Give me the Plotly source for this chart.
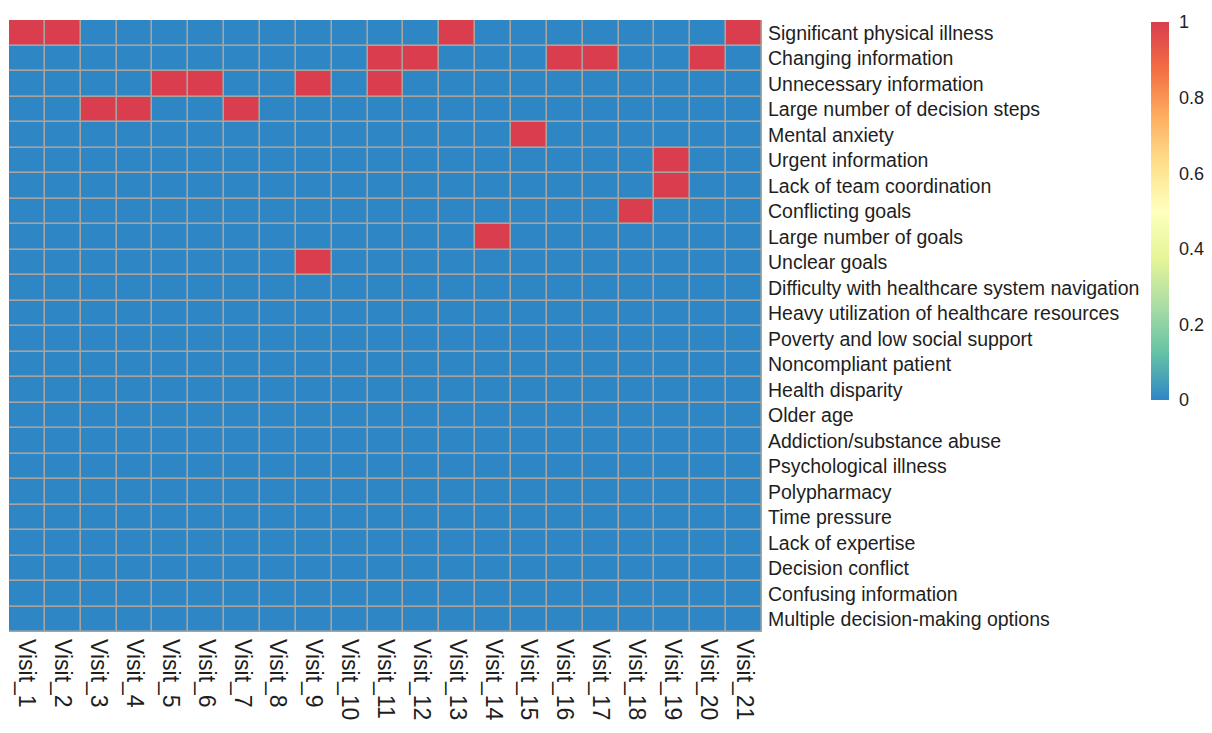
import plotly.graph_objects as go

visits = [f"Visit_{i}" for i in range(1, 22)]

factors = [
    "Significant physical illness",
    "Changing information",
    "Unnecessary information",
    "Large number of decision steps",
    "Mental anxiety",
    "Urgent information",
    "Lack of team coordination",
    "Conflicting goals",
    "Large number of goals",
    "Unclear goals",
    "Difficulty with healthcare system navigation",
    "Heavy utilization of healthcare resources",
    "Poverty and low social support",
    "Noncompliant patient",
    "Health disparity",
    "Older age",
    "Addiction/substance abuse",
    "Psychological illness",
    "Polypharmacy",
    "Time pressure",
    "Lack of expertise",
    "Decision conflict",
    "Confusing information",
    "Multiple decision-making options",
]

# Visits (1-based) in which each factor was present
present_in = {
    "Significant physical illness": [1, 2, 13, 21],
    "Changing information": [11, 12, 16, 17, 20],
    "Unnecessary information": [5, 6, 9, 11],
    "Large number of decision steps": [3, 4, 7],
    "Mental anxiety": [15],
    "Urgent information": [19],
    "Lack of team coordination": [19],
    "Conflicting goals": [18],
    "Large number of goals": [14],
    "Unclear goals": [9],
}

z = [[1 if (v + 1) in present_in.get(f, []) else 0 for v in range(len(visits))]
     for f in factors]

spectral_r = [
    [0.0, "#2E87C4"], [0.125, "#66C2A5"], [0.25, "#ABDDA4"], [0.375, "#E6F598"],
    [0.5, "#FFFFBF"], [0.625, "#FEE08B"], [0.75, "#FDAE61"], [0.875, "#F46D43"],
    [1.0, "#D93D4E"],
]

W, H = 1212, 733
L, R, T, B = 9, 450, 20, 101
plot_h = H - T - B
plot_w = W - L - R
FONT = "Liberation Sans, Arial, sans-serif"

fig = go.Figure(go.Heatmap(
    z=z, x=visits, y=factors,
    colorscale=spectral_r, zmin=0, zmax=1,
    xgap=1.6, ygap=1.6,
    colorbar=dict(
        thickness=18, len=378, lenmode="pixels", ypad=0, xpad=0,
        x=(1151 - L) / plot_w, xanchor="left",
        y=(plot_h - 2) / plot_h, yanchor="top",
        outlinewidth=0, ticks="outside", ticklen=7, tickcolor="rgba(0,0,0,0)",
        tickvals=[0, 0.2, 0.4, 0.6, 0.8, 1],
        ticktext=["0", "0.2", "0.4", "0.6", "0.8", "1"],
        tickfont=dict(size=18, color="#1e1e1e", family=FONT),
    ),
))

fig.update_layout(
    width=W, height=H,
    margin=dict(l=L, r=R, t=T, b=B, autoexpand=False),
    paper_bgcolor="white", plot_bgcolor="#A8A39E",
    font=dict(family=FONT, color="#1e1e1e"),
)
fig.update_xaxes(side="bottom", tickangle=90, showgrid=False, zeroline=False,
                 ticks="", tickfont=dict(size=23), showline=False,
                 automargin=False, ticklabelstandoff=6)
fig.update_yaxes(side="right", autorange="reversed", showgrid=False, zeroline=False,
                 ticks="", tickfont=dict(size=19.5), showline=False,
                 automargin=False, ticklabelstandoff=5)

fig.write_html("out.html")
